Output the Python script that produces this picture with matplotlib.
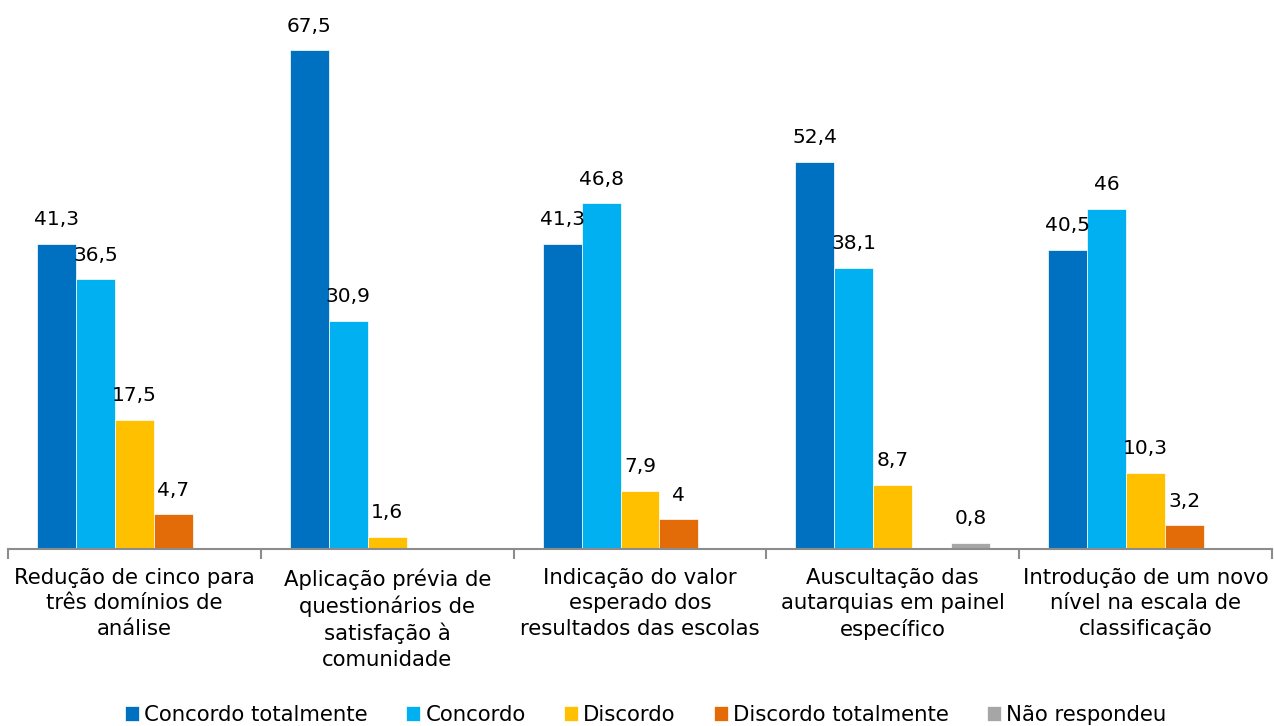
import numpy as np
import matplotlib.pyplot as plt

# Categories and series values (percent)
categories = [
    "Redução de cinco para\ntrês domínios de\nanálise",
    "Aplicação prévia de\nquestionários de\nsatisfação à\ncomunidade",
    "Indicação do valor\nesperado dos\nresultados das escolas",
    "Auscultação das\nautarquias em painel\nespecífico",
    "Introdução de um novo\nnível na escala de\nclassificação",
]
series_names = ["Concordo totalmente", "Concordo", "Discordo",
                "Discordo totalmente", "Não respondeu"]
concordo_totalmente = [41.3, 67.5, 41.3, 52.4, 40.5]
concordo = [36.5, 30.9, 46.8, 38.1, 46]
discordo = [17.5, 1.6, 7.9, 8.7, 10.3]
discordo_totalmente = [4.7, None, 4, None, 3.2]
nao_respondeu = [None, None, None, 0.8, None]

colors = ["#0070C0", "#00B0F0", "#FFC000", "#E36C09", "#A6A6A6"]
all_series = [concordo_totalmente, concordo, discordo, discordo_totalmente, nao_respondeu]

plt.rcParams['font.family'] = ['DejaVu Sans']
fig = plt.figure(figsize=(12.74, 7.26), dpi=100)
ax = fig.add_axes([8 / 1274, 177 / 726, 1264 / 1274, (549 - 32) / 726])

x = np.arange(len(categories))
width = 0.154


def fmt(v):
    s = f"{v:g}"
    return s.replace(".", ",")


for i, (name, vals, col) in enumerate(zip(series_names, all_series, colors)):
    pos = x + (i - 2) * width
    heights = [v if v is not None else 0 for v in vals]
    bars = ax.bar(pos, heights, width, color=col, label=name,
                  edgecolor="white", linewidth=0.5)
    for b, v in zip(bars, vals):
        if v is None:
            continue
        ax.text(b.get_x() + b.get_width() / 2, v + 2.0, fmt(v),
                ha="center", va="bottom", fontsize=14.5)

ax.set_xlim(-0.5, len(categories) - 0.5)
ax.set_ylim(0, 70)
ax.set_yticks([])
for s in ["left", "right", "top"]:
    ax.spines[s].set_visible(False)
ax.spines["bottom"].set_color("#8C8C8C")
ax.spines["bottom"].set_linewidth(1.5)

# tick marks at group boundaries
ax.set_xticks(np.arange(-0.5, len(categories)), minor=False)
ax.set_xticklabels([])
ax.tick_params(axis="x", length=7, width=1.5, color="#8C8C8C")
for xi, lab in zip(x, categories):
    ax.text(xi, -2.6, lab, ha="center", va="top", fontsize=15.3,
            linespacing=1.33)

fig.legend(loc="lower center", bbox_to_anchor=(0.507, -0.025), ncol=5,
           frameon=False, fontsize=15.3, handlelength=0.65, handleheight=0.65,
           handletextpad=0.25, columnspacing=1.8)

fig.savefig("out.png", dpi=100)
